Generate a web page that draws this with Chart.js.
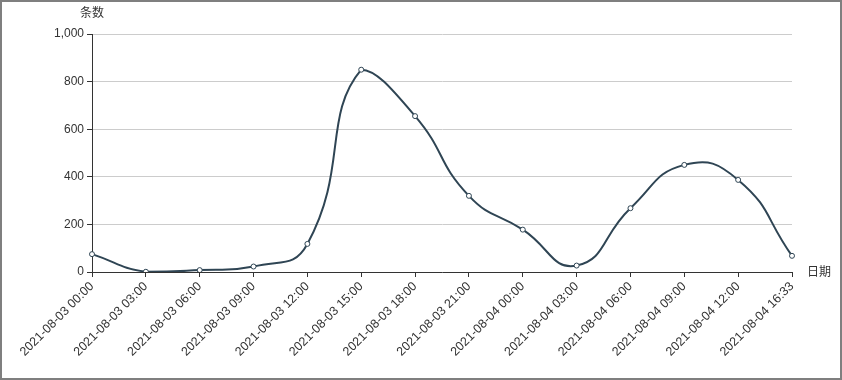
<!DOCTYPE html>
<html>
<head>
<meta charset="utf-8">
<script src="https://cdn.jsdelivr.net/npm/chart.js@4/dist/chart.umd.min.js"></script>
<style>
    html, body { margin: 0; padding: 0; background: #fff; }
    #box {
        width: 842px;
        height: 380px;
        box-sizing: border-box;
        border: 2px solid #7f7f7f;
        position: relative;
    }
</style>
</head>
<body>
<div id="box"><canvas id="line_chart" width="838" height="376"></canvas></div>
<script>
// -------------------
// DATA
// -------------------
var dates = [
    '2021-08-03 00:00', '2021-08-03 03:00', '2021-08-03 06:00', '2021-08-03 09:00',
    '2021-08-03 12:00', '2021-08-03 15:00', '2021-08-03 18:00', '2021-08-03 21:00',
    '2021-08-04 00:00', '2021-08-04 03:00', '2021-08-04 06:00', '2021-08-04 09:00',
    '2021-08-04 12:00', '2021-08-04 16:33'
];
var counts = [75, 1, 8, 23, 118, 850, 655, 320, 178, 27, 268, 450, 387, 68];

var yTicks = [0, 200, 400, 600, 800, 1000];
var yName = '条数';
var xName = '日期';

const fontFamily = '"Liberation Sans", "Noto Sans CJK SC", sans-serif';
const textColor = '#333333';

// axis names drawn like echarts does
const axisNames = {
    id: 'axisNames',
    afterDraw: function(chart) {
        var c = chart.ctx;
        var area = chart.chartArea;
        c.save();
        c.fillStyle = textColor;
        c.font = '12px ' + fontFamily;
        c.textAlign = 'center';
        c.textBaseline = 'middle';
        c.fillText(yName, area.left, area.top - 20);
        c.textAlign = 'left';
        c.fillText(xName, area.right + 15, area.bottom + 1);
        c.restore();
    }
};

// keep bezier control points inside the data's min/max (echarts smooth style)
const smoothConstraint = {
    id: 'smoothConstraint',
    beforeDatasetDraw: function(chart, args) {
        var meta = args.meta;
        var y = chart.scales.y;
        meta.dataset.updateControlPoints(chart.chartArea, 'x');
        var top = y.getPixelForValue(Math.max.apply(null, counts));
        var bottom = y.getPixelForValue(Math.min.apply(null, counts));
        meta.data.forEach(function(pt) {
            pt.cp1y = Math.min(Math.max(pt.cp1y, top), bottom);
            pt.cp2y = Math.min(Math.max(pt.cp2y, top), bottom);
        });
    }
};

var ctx = document.getElementById('line_chart').getContext('2d');

var myChart = new Chart(ctx, {
    type: 'line',
    data: {
        labels: dates,
        datasets: [{
            label: yName,
            data: counts,
            borderColor: '#2f4554',
            borderWidth: 2,
            tension: 0.5,
            fill: false,
            pointRadius: 2.5,
            pointBorderWidth: 1,
            pointBackgroundColor: '#ffffff',
            pointBorderColor: '#2f4554',
        }]
    },
    options: {
        responsive: false,
        animation: false,
        layout: {
            padding: { top: 32, right: 48, bottom: 0, left: 0 },
        },
        plugins: {
            legend: { display: false },
            tooltip: { enabled: false },
        },
        scales: {
            x: {
                offset: false,
                grid: {
                    drawOnChartArea: false,
                    tickLength: 5,
                    tickColor: '#333333',
                },
                border: { color: '#333333', width: 1 },
                ticks: {
                    autoSkip: false,
                    maxRotation: 45,
                    minRotation: 45,
                    padding: 2,
                    color: textColor,
                    font: { family: fontFamily, size: 12.5 },
                },
                afterFit: function(scale) { scale.height = 106; },
            },
            y: {
                min: 0,
                max: 1000,
                afterBuildTicks: function(scale) {
                    scale.ticks = yTicks.map(function(v) { return { value: v }; });
                },
                grid: {
                    color: '#cccccc',
                    tickLength: 5,
                    tickColor: '#333333',
                },
                border: { color: '#333333', width: 1 },
                ticks: {
                    padding: 3,
                    color: textColor,
                    font: { family: fontFamily, size: 12 },
                    callback: function(value) {
                        return value.toString().replace(/\B(?=(\d{3})+(?!\d))/g, ",");
                    },
                },
                afterFit: function(scale) { scale.width = 90; },
            }
        }
    },
    plugins: [axisNames, smoothConstraint],
});
</script>
</body>
</html>
